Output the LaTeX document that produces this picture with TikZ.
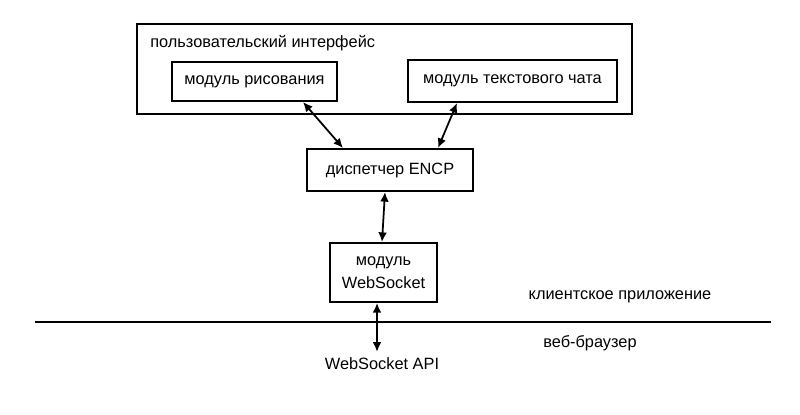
\documentclass[tikz,border=0pt]{standalone}
\usepackage{fontspec}
\setmainfont{Liberation Sans}
\usetikzlibrary{arrows.meta}
\begin{document}
\begin{tikzpicture}[x=0.02cm,y=-0.02cm]
	% Styles
	\tikzstyle{fleche}=[<->,>={Latex[length=5.5pt,width=5pt]},line width=1pt]
	\tikzstyle{boite}=[draw,line width=1.1pt,inner sep=0pt,align=center]
	\tikzstyle{texte}=[font=\fontsize{9.3}{13}\selectfont]
	\tikzstyle{separation}=[line width=1.1pt]
	% Dimensions
	\def\Pixel{0.02cm}
	\useasboundingbox (0,0) rectangle (800,414);
	% Noeuds
	\node[boite,minimum width={495*\Pixel},minimum height={90*\Pixel}] (ui) at (384.5,69) {};
	\node[texte,anchor=west,inner sep=0pt] (uititre) at (150,43) {пользовательский интерфейс};
	\node[boite,texte,minimum width={165*\Pixel},minimum height={39*\Pixel}] (dessin) at (254.5,81.5) {модуль рисования};
	\node[boite,texte,minimum width={209*\Pixel},minimum height={42*\Pixel}] (chat) at (512.5,81) {модуль текстового чата};
	\node[boite,texte,minimum width={166*\Pixel},minimum height={42*\Pixel}] (encp) at (390,170) {диспетчер ENCP};
	\node[boite,texte,minimum width={107*\Pixel},minimum height={59*\Pixel}] (ws) at (383.5,272.5) {модуль\\WebSocket};
	\node[texte] (api) at (382,364) {WebSocket API};
	\node[texte] (client) at (620,297) {клиентское приложение};
	\node[texte] (navigateur) at (590,343) {веб-браузер};
	% Separation
	\coordinate (sepg) at (35,322);
	\coordinate (sepd) at (771,322);
	\draw[separation] (sepg) -- (sepd);
	% Arcs
	\draw[fleche] ([xshift=0.97cm]dessin.south) -- ([xshift=-0.94cm]encp.north);
	\draw[fleche] ([xshift=-1.11cm]chat.south) -- ([xshift=0.96cm]encp.north);
	\draw[fleche] ([xshift=-0.1cm]encp.south) -- ([xshift=-0.03cm]ws.north);
	\draw[fleche] ([xshift=-0.13cm]ws.south) -- ([xshift=-0.1cm]api.north);
\end{tikzpicture}
\end{document}
